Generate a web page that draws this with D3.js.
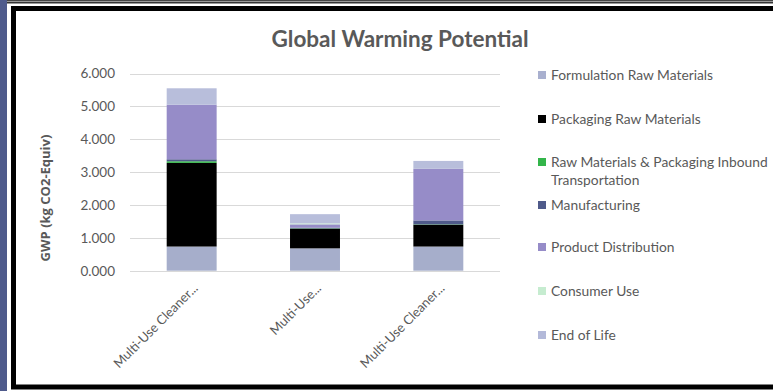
<!DOCTYPE html>
<meta charset="utf-8" />
<html>
<head>
<title>Global Warming Potential</title>
<script src="https://d3js.org/d3.v7.min.js"></script>
<style>
  body { margin: 0; background: #fff; }
  svg text { font-family: Lato, "Open Sans", sans-serif; fill: #595959; }
</style>
</head>
<body>
<div id="viz"></div>
<script>

// data
var products = ["Multi-Use Cleaner...", "Multi-Use...", "Multi-Use Cleaner..."];
var stages = ["Formulation Raw Materials", "Packaging Raw Materials",
  "Raw Materials & Packaging Inbound Transportation", "Manufacturing",
  "Product Distribution", "Consumer Use", "End of Life"];
var formulation   = [0.735, 0.68, 0.735];
var packaging     = [2.545, 0.60, 0.665];
var inbound       = [0.05, 0.01, 0.01];
var manufacturing = [0.06, 0.02, 0.12];
var distribution  = [1.66, 0.10, 1.57];
var consumerUse   = [0.00, 0.03, 0.00];
var endOfLife     = [0.50, 0.28, 0.24];
var yTicks = [0, 1, 2, 3, 4, 5, 6];

var colors = ["#a6aecb", "#000000", "#33b54a", "#4f5a8a", "#968cc8", "#c6ecd0", "#b8bedb"];

var width = 773, height = 391;
var svg = d3.select("#viz").append("svg")
    .attr("width", width)
    .attr("height", height);

// frame round the chart
svg.append("rect").attr("x", 0).attr("y", 0).attr("width", 7).attr("height", height).style("fill", "#4f5b8c");
svg.append("rect").attr("x", 7).attr("y", 0).attr("width", width).attr("height", 1).style("fill", "#444");
svg.append("rect").attr("x", 7).attr("y", 1).attr("width", width).attr("height", 1).style("fill", "#999");
svg.append("rect").attr("x", 7).attr("y", 2).attr("width", width).attr("height", 1.5).style("fill", "#333");
svg.append("rect")
  .attr("x", 13.5).attr("y", 8.5)
  .attr("width", 800).attr("height", 378.5)
  .style("fill", "none").style("stroke", "#000").style("stroke-width", 5);

var x = d3.scaleBand().domain(d3.range(products.length)).range([130, 500]).paddingInner(0.595).paddingOuter(0.2975);
var y = d3.scaleLinear().domain([0, 6]).range([270.7, 73.5]);

// gridlines
svg.append("g").selectAll("line")
  .data(yTicks)
  .enter().append("line")
  .attr("x1", 130).attr("x2", 500)
  .attr("y1", function(d) { return Math.round(y(d)) + 0.5; })
  .attr("y2", function(d) { return Math.round(y(d)) + 0.5; })
  .style("stroke", "#d9d9d9");

var yAxis = svg.append("g")
  .attr("transform", "translate(118,0)")
  .call(d3.axisLeft(y).tickValues(yTicks).tickSize(0).tickFormat(d3.format(".3f")));
yAxis.select(".domain").remove();
yAxis.selectAll("text").style("font-size", "13.5px").style("fill", "#595959")
  .style("font-family", "Lato, sans-serif");

// stacked bars
var series = [formulation, packaging, inbound, manufacturing, distribution, consumerUse, endOfLife];
var rows = products.map(function(p, i) {
  var r = { i: i };
  series.forEach(function(s, k) { r[k] = s[i]; });
  return r;
});
var stack = d3.stack().keys(d3.range(series.length))(rows);

svg.append("g").selectAll("g")
  .data(stack)
  .enter().append("g")
  .style("fill", function(d, k) { return colors[k]; })
  .selectAll("rect")
  .data(function(d) { return d; })
  .enter().append("rect")
  .attr("x", function(d) { return x(d.data.i); })
  .attr("width", x.bandwidth())
  .attr("y", function(d) { return y(d[1]); })
  .attr("height", function(d) { return y(d[0]) - y(d[1]); });

// category labels
svg.append("g").selectAll("text")
  .data(products)
  .enter().append("text")
  .attr("transform", function(d, i) {
    return "translate(" + (x(i) + x.bandwidth() / 2 + 7) + ",289) rotate(-45)";
  })
  .attr("text-anchor", "end")
  .style("font-size", "13px")
  .text(function(d) { return d; });

// titles
svg.append("text")
  .attr("x", 400).attr("y", 47)
  .attr("text-anchor", "middle")
  .style("font-size", "22.5px").style("font-weight", "bold")
  .text("Global Warming Potential");

svg.append("text")
  .attr("transform", "translate(50,198) rotate(-90)")
  .attr("text-anchor", "middle")
  .style("font-family", "'Open Sans', sans-serif")
  .style("font-size", "13px").style("font-weight", "bold")
  .text("GWP (kg CO2-Equiv)");

// legend
var legendY = [75, 119, 162, 205, 247, 291, 335];
var legend = svg.append("g").selectAll("g")
  .data(stages)
  .enter().append("g")
  .attr("transform", function(d, k) { return "translate(538," + legendY[k] + ")"; });
legend.append("rect")
  .attr("x", 0).attr("y", -4).attr("width", 8).attr("height", 8)
  .style("fill", function(d, k) { return k == 0 ? "#a9b0cf" : k == 6 ? "#b3b9d9" : colors[k]; });
legend.append("text")
  .attr("x", 13).attr("y", 5)
  .style("font-size", "13.8px")
  .each(function(d) {
    var t = d3.select(this);
    if (d.indexOf("Inbound") > 0) {
      t.append("tspan").attr("x", 13).text("Raw Materials & Packaging Inbound");
      t.append("tspan").attr("x", 13).attr("dy", 17.5).text("Transportation");
    } else {
      t.text(d);
    }
  });

</script>
</body>
</html>
